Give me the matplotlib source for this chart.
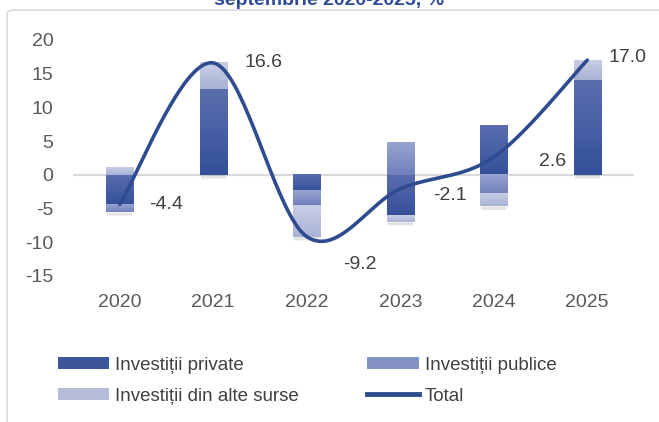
import matplotlib
matplotlib.use("Agg")
import matplotlib.pyplot as plt
import numpy as np
from matplotlib.patches import FancyBboxPatch, Patch
from matplotlib.lines import Line2D
from matplotlib.colors import LinearSegmentedColormap

plt.rcParams['font.family'] = ['Liberation Sans', 'DejaVu Sans']
plt.rcParams['axes.unicode_minus'] = False

years = ['2020', '2021', '2022', '2023', '2024', '2025']
private = [-4.4, 12.7, -2.4, -6.1, 7.3, 14.1]
public = [-1.1, 0.0, -2.1, 4.9, -2.9, 0.0]
other = [1.1, 3.9, -4.7, -0.9, -1.8, 2.9]
total = [-4.4, 16.6, -9.2, -2.1, 2.6, 17.0]
series_names = ['Investiții private', 'Investiții publice', 'Investiții din alte surse']

# gradient ends (dark, light) for each series
grads = [('#34509a', '#5a6eae'), ('#7080bb', '#98a4d0'), ('#a9b2d5', '#c8cee5')]
line_color = '#2f4b8f'

fig = plt.figure(figsize=(6.59, 4.22), dpi=100)
fig.patch.set_facecolor('white')

# outer chart frame
frame = FancyBboxPatch((7 / 659, -0.1), 1.2, 1.1 - 10 / 422, boxstyle='round,pad=0,rounding_size=0.01',
                       transform=fig.transFigure, facecolor='none', edgecolor='#d9d9d9', lw=1.2)
fig.patches.append(frame)

# title, cut off at the top edge as in the source
fig.text(0.5, 1 - 5 / 422, 'septembrie 2020-2025, %', ha='center', va='baseline',
         fontsize=14, fontweight='bold', color='#2e4a9b')

ax = fig.add_axes([73 / 659, 1 - 275.7 / 422, (634 - 73) / 659, (275.7 - 40) / 422])
x = np.arange(len(years))
width = 0.29

pos_base = np.zeros(len(years))
neg_base = np.zeros(len(years))
for vals, (dark, light) in zip([private, public, other], grads):
    vals = np.array(vals)
    bottoms = np.where(vals >= 0, pos_base, neg_base)
    bars = ax.bar(x, vals, width, bottom=bottoms, color='none', edgecolor='none', zorder=2)
    cmap = LinearSegmentedColormap.from_list('g', [dark, light])
    for b in bars:
        h = b.get_height()
        if h == 0:
            continue
        y0, y1 = b.get_y(), b.get_y() + h
        grad = np.linspace(0, 1, 64).reshape(-1, 1)
        ax.imshow(grad, cmap=cmap, aspect='auto', origin='lower', zorder=2,
                  extent=[b.get_x(), b.get_x() + b.get_width(), min(y0, y1), max(y0, y1)])
    pos_base += np.where(vals >= 0, vals, 0)
    neg_base += np.where(vals < 0, vals, 0)

# soft shadow under each bar
for i in range(len(years)):
    for k in range(4):
        ax.add_patch(plt.Rectangle((x[i] - width / 2 + 0.01, neg_base[i] - 0.25 - k * 0.12), width - 0.02, 0.25,
                                   facecolor='#000000', alpha=0.05, lw=0, zorder=1))

# smoothed total line (Excel-like Bezier smoothing)
pts = np.column_stack([x, total]).astype(float)
curve = []
for i in range(len(pts) - 1):
    p0 = pts[i - 1] if i > 0 else pts[i]
    p1, p2 = pts[i], pts[i + 1]
    p3 = pts[i + 2] if i + 2 < len(pts) else pts[i + 1]
    c1 = p1 + (p2 - p0) / 6
    c2 = p2 - (p3 - p1) / 6
    t = np.linspace(0, 1, 40).reshape(-1, 1)
    seg = (1 - t) ** 3 * p1 + 3 * (1 - t) ** 2 * t * c1 + 3 * (1 - t) * t ** 2 * c2 + t ** 3 * p2
    curve.append(seg)
curve = np.vstack(curve)
ax.plot(curve[:, 0], curve[:, 1], color=line_color, lw=2.6, solid_capstyle='round', zorder=3)

# data labels (offsets in points)
offsets = [(33, 0), (36, 0), (38, -20), (36, -5), (42, -3), (29, 2)]
for i, v in enumerate(total):
    ax.annotate(f'{v:.1f}', (x[i], v), xytext=offsets[i], textcoords='offset points',
                ha='center', va='center', fontsize=14, color='#404040')

ax.axhline(0, color='#d9d9d9', lw=1.5, zorder=0)
ax.set_xlim(-0.5, len(years) - 0.5)
ax.set_ylim(-15, 20)
ax.set_yticks(range(-15, 21, 5))
ax.set_xticks(x)
ax.set_xticklabels(years)
for s in ax.spines.values():
    s.set_visible(False)
ax.tick_params(axis='both', length=0, labelsize=14, labelcolor='#595959')
ax.tick_params(axis='y', pad=14)
ax.tick_params(axis='x', pad=13)

handles = [Patch(facecolor='#3d5599', label=series_names[0]),
           Patch(facecolor='#b4bcda', label=series_names[2]),
           Patch(facecolor='#8592c6', label=series_names[1]),
           Line2D([], [], color=line_color, lw=3.5, label='Total')]
leg = fig.legend(handles=handles, ncol=2, loc='upper left', bbox_to_anchor=(50 / 659, 1 - 349 / 422),
                 frameon=False, fontsize=13.5, handlelength=2.77, handleheight=0.62, handletextpad=0.32,
                 columnspacing=3.62, labelspacing=0.75, borderaxespad=0)
for t in leg.get_texts():
    t.set_color('#404040')

fig.savefig('out.png', dpi=100)
